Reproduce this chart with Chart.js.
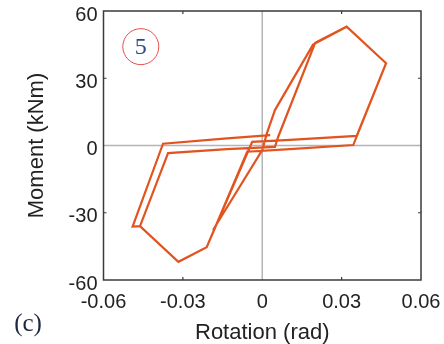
<!DOCTYPE html>
<html>
<head>
<meta charset="utf-8">
<script src="https://cdn.jsdelivr.net/npm/chart.js@4.4.1/dist/chart.umd.min.js"></script>
<style>
  html, body { margin: 0; padding: 0; background: #fff; }
</style>
</head>
<body>
<canvas id="c" width="444" height="344"></canvas>
<script>
// Moment–rotation hysteresis of specimen 5 (two cycles)
const rotation = [
  -0.0186, 0.0000, 0.0018, 0.0048, 0.0192, 0.0319, 0.0468, 0.0357, 0.0105, -0.0038,
  -0.0210, -0.0317, -0.0462, -0.0356, -0.0133, 0.0048, 0.0060, 0.0200, 0.0319,
  0.0468, 0.0344, 0.0105, -0.0057, -0.0210, -0.0317, -0.0462, -0.0490,
  -0.0375, -0.0133, 0.0030
];
const moment = [
  -37.7, -2.0, 5.6, 15.8, 45.0, 53.0, 36.7, 4.3, 2.5, 1.6,
  -45.4, -51.9, -36.0, -3.4, -1.6, -0.6, 3.8, 45.8, 53.0,
  36.7, 0.2, -1.6, -2.8, -45.4, -51.9, -36.0, -36.2,
  0.8, 3.2, 4.6
];

const xTicks = [-0.06, -0.03, 0, 0.03, 0.06];
const yTicks = [-60, -30, 0, 30, 60];
const xInnerTicks = [-0.03, 0.03];
const yInnerTicks = [-30, 30];
const specimenLabel = '5';
const specimenPos = [-0.0459, 44.1];
const panelLabel = '(c)';

const points = rotation.map((r, i) => ({ x: r, y: moment[i] }));

const frame = {
  id: 'frame',
  beforeDatasetsDraw(chart) {
    const { ctx, chartArea: a, scales: { x, y } } = chart;
    ctx.save();
    ctx.strokeStyle = '#b4b4b4';
    ctx.lineWidth = 1.5;
    const x0 = x.getPixelForValue(0), y0 = y.getPixelForValue(0);
    ctx.beginPath();
    ctx.moveTo(x0, a.top); ctx.lineTo(x0, a.bottom);
    ctx.moveTo(a.left, y0); ctx.lineTo(a.right, y0);
    ctx.stroke();
    ctx.restore();
  },
  afterDatasetsDraw(chart) {
    const { ctx, chartArea: a, scales: { x, y } } = chart;
    ctx.save();
    ctx.strokeStyle = '#3a3a3a';
    ctx.lineWidth = 1.5;
    ctx.strokeRect(a.left, a.top, a.right - a.left, a.bottom - a.top);
    ctx.lineWidth = 1.2;
    ctx.beginPath();
    xInnerTicks.forEach(v => {
      const px = x.getPixelForValue(v);
      ctx.moveTo(px, a.top); ctx.lineTo(px, a.top + 3);
      ctx.moveTo(px, a.bottom); ctx.lineTo(px, a.bottom - 3);
    });
    yInnerTicks.forEach(v => {
      const py = y.getPixelForValue(v);
      ctx.moveTo(a.left, py); ctx.lineTo(a.left + 3, py);
      ctx.moveTo(a.right, py); ctx.lineTo(a.right - 3, py);
    });
    ctx.stroke();

    // circled specimen number
    const cx = x.getPixelForValue(specimenPos[0]);
    const cy = y.getPixelForValue(specimenPos[1]);
    ctx.strokeStyle = '#ee4a4a';
    ctx.lineWidth = 1;
    ctx.beginPath();
    ctx.arc(cx, cy, 18, 0, Math.PI * 2);
    ctx.stroke();
    ctx.fillStyle = '#2b4a86';
    ctx.font = '24px "Liberation Serif", serif';
    ctx.textAlign = 'center';
    ctx.textBaseline = 'middle';
    ctx.fillText(specimenLabel, cx, cy + 1);

    // panel letter
    ctx.fillStyle = '#1c2840';
    ctx.font = '25px "Liberation Serif", serif';
    ctx.textAlign = 'center';
    ctx.fillText(panelLabel, 28, 324);
    ctx.restore();
  }
};

const tickFont = { family: '"Liberation Sans", Arial, sans-serif', size: 20 };
const titleFont = { family: '"Liberation Sans", Arial, sans-serif', size: 22 };

new Chart(document.getElementById('c'), {
  type: 'scatter',
  data: {
    datasets: [{
      data: points,
      showLine: true,
      borderColor: '#e2541f',
      borderWidth: 2.2,
      pointRadius: 0,
      tension: 0,
      fill: false
    }]
  },
  options: {
    responsive: false,
    animation: false,
    devicePixelRatio: 1,
    layout: { padding: { left: 0, right: 23, top: 11, bottom: 0 } },
    plugins: { legend: { display: false }, tooltip: { enabled: false } },
    scales: {
      x: {
        type: 'linear',
        min: -0.06, max: 0.06,
        afterBuildTicks: s => { s.ticks = xTicks.map(v => ({ value: v })); },
        afterFit: s => { s.height = 64; s.paddingLeft = 0; s.paddingRight = 0; },
        grid: { display: false, drawTicks: false },
        border: { display: false },
        ticks: {
          font: tickFont, color: '#222', padding: 10,
          maxRotation: 0, autoSkip: false,
          callback: v => String(Math.round(v * 100) / 100)
        },
        title: { display: true, text: 'Rotation (rad)', font: titleFont, color: '#222', padding: { top: 0, bottom: -2 } }
      },
      y: {
        type: 'linear',
        min: -60, max: 60,
        afterBuildTicks: s => { s.ticks = yTicks.map(v => ({ value: v })); },
        afterFit: s => { s.width = 103.5; s.paddingTop = 0; s.paddingBottom = 0; },
        grid: { display: false, drawTicks: false },
        border: { display: false },
        ticks: { font: tickFont, color: '#222', padding: 6, labelOffset: 4, autoSkip: false },
        title: { display: true, text: 'Moment (kNm)', font: titleFont, color: '#222', padding: { top: 24, bottom: 0 } }
      }
    }
  },
  plugins: [frame]
});
</script>
</body>
</html>
